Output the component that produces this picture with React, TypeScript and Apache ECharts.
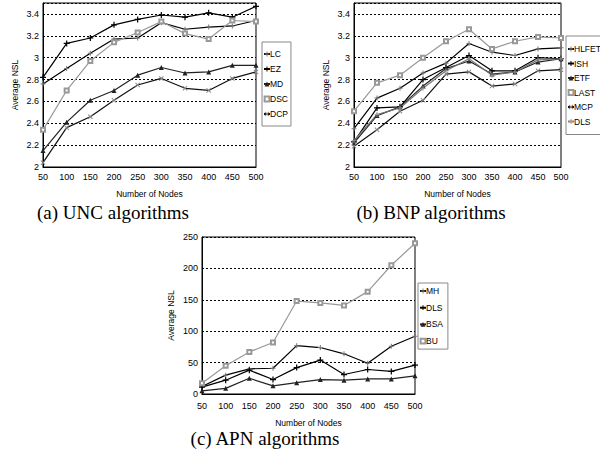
import React, { useEffect, useRef } from "react";
import * as echarts from "echarts";

const nodes = ["50", "100", "150", "200", "250", "300", "350", "400", "450", "500"];

// (a) UNC algorithms
const uncLC = [2.76, 2.9, 3.04, 3.17, 3.18, 3.32, 3.26, 3.28, 3.29, 3.34];
const uncEZ = [2.82, 3.13, 3.18, 3.3, 3.35, 3.39, 3.37, 3.41, 3.37, 3.47];
const uncMD = [2.15, 2.41, 2.61, 2.7, 2.84, 2.91, 2.86, 2.87, 2.93, 2.93];
const uncDSC = [2.34, 2.7, 2.97, 3.14, 3.23, 3.33, 3.22, 3.17, 3.34, 3.33];
const uncDCP = [2.04, 2.36, 2.46, 2.61, 2.75, 2.81, 2.72, 2.7, 2.81, 2.87];

// (b) BNP algorithms
const bnpHLFET = [2.35, 2.63, 2.72, 2.86, 2.95, 3.13, 3.05, 3.02, 3.08, 3.09];
const bnpISH = [2.23, 2.54, 2.55, 2.8, 2.91, 3.02, 2.88, 2.88, 3.0, 2.99];
const bnpETF = [2.22, 2.47, 2.55, 2.74, 2.9, 2.97, 2.85, 2.87, 2.96, 2.99];
const bnpLAST = [2.51, 2.77, 2.84, 3.0, 3.15, 3.26, 3.08, 3.15, 3.19, 3.18];
const bnpMCP = [2.19, 2.34, 2.51, 2.61, 2.85, 2.87, 2.74, 2.76, 2.88, 2.89];
const bnpDLS = [2.24, 2.48, 2.54, 2.72, 2.88, 2.99, 2.84, 2.87, 2.98, 2.99];

// (c) APN algorithms
const apnMH = [12, 30, 40, 41, 77, 74, 64, 49, 76, 92];
const apnDLS = [11, 22, 38, 23, 42, 54, 31, 39, 36, 46];
const apnBSA = [5, 9, 25, 13, 18, 23, 22, 24, 24, 29];
const apnBU = [17, 45, 67, 82, 148, 145, 141, 163, 205, 240];

const captions = ["(a) UNC algorithms", "(b) BNP algorithms", "(c) APN algorithms"];
const legendA = ["LC", "EZ", "MD", "DSC", "DCP"];
const legendB = ["HLFET", "ISH", "ETF", "LAST", "MCP", "DLS"];
const legendC = ["MH", "DLS ", "BSA", "BU"];

const PLUS = "path://M4,0H6V4H10V6H6V10H4V6H0V4H4Z";
const CROSS =
  "path://M1.4,0L5,3.6L8.6,0L10,1.4L6.4,5L10,8.6L8.6,10L5,6.4L1.4,10L0,8.6L3.6,5L0,1.4Z";

const SANS = "Liberation Sans, Arial, sans-serif";
const SERIF = "Liberation Serif, Times New Roman, serif";

function mk(name: string, data: number[], color: string, symbol: string, idx: number, size = 5, mcolor?: string) {
  return {
    name,
    type: "line",
    xAxisIndex: idx,
    yAxisIndex: idx,
    data,
    symbol,
    symbolSize: size,
    showSymbol: true,
    lineStyle: { color, width: 1.2 },
    itemStyle: { color: mcolor || color, borderColor: mcolor || color, borderWidth: symbol.startsWith("empty") ? 1 : 0 },
    emphasis: { disabled: true },
  };
}

function xAx(idx: number, margin: number, gap: number) {
  return {
    type: "category",
    gridIndex: idx,
    data: nodes,
    boundaryGap: false,
    axisLine: { lineStyle: { color: "#000", width: 1 } },
    axisTick: { show: false },
    axisLabel: { color: "#000", fontSize: 9, fontFamily: SANS, margin, interval: 0 },
    splitLine: { show: false },
    name: "Number of Nodes",
    nameLocation: "middle",
    nameGap: gap,
    nameTextStyle: { color: "#000", fontSize: 8.5, fontFamily: SANS },
  };
}

function yAx(idx: number, min: number, max: number, interval: number, showMax: boolean, gap: number) {
  return {
    type: "value",
    gridIndex: idx,
    min,
    max,
    interval,
    axisLine: { show: true, lineStyle: { color: "#000", width: 1 } },
    axisTick: { show: false },
    axisLabel: { color: "#000", fontSize: 9, fontFamily: SANS, margin: 4, showMaxLabel: showMax },
    splitLine: { show: true, lineStyle: { color: "#000", type: [2, 2], width: 1 } },
    name: "Average NSL",
    nameLocation: "middle",
    nameRotate: 90,
    nameGap: gap,
    nameTextStyle: { color: "#000", fontSize: 8.5, fontFamily: SANS },
  };
}

function legend(data: string[], left: number, top: number, gap: number, padV: number) {
  return {
    data,
    orient: "vertical",
    left,
    top,
    itemWidth: 6,
    itemHeight: 6,
    itemGap: gap,
    padding: [padV, 3, padV, 1],
    borderColor: "#888",
    borderWidth: 1,
    backgroundColor: "#fff",
    borderRadius: 0,
    textStyle: { color: "#000", fontSize: 8.5, fontFamily: SANS, padding: [0, 0, 0, -5], lineHeight: 10 },
    selectedMode: false,
  };
}

export default function App() {
  const ref = useRef<HTMLDivElement>(null);
  useEffect(() => {
    if (!ref.current) return;
    const chart = echarts.init(ref.current, null, { renderer: "svg" });
    const option = {
      animation: false,
      backgroundColor: "#fff",
      grid: [
        { left: 43, top: 3, width: 213, height: 164, show: true, borderColor: "#000", borderWidth: 1, backgroundColor: "transparent" },
        { left: 354, top: 3, width: 207, height: 164, show: true, borderColor: "#000", borderWidth: 1, backgroundColor: "transparent" },
        { left: 202, top: 237, width: 213, height: 157, show: true, borderColor: "#000", borderWidth: 1, backgroundColor: "transparent" },
      ],
      xAxis: [xAx(0, 5, 22), xAx(1, 5, 22), xAx(2, 7, 24)],
      yAxis: [
        yAx(0, 2, 3.5, 0.2, false, 24),
        yAx(1, 2, 3.5, 0.2, false, 24),
        yAx(2, 0, 250, 50, true, 27),
      ],
      legend: [
        legend(legendA, 262, 42, 5, 7),
        legend(legendB, 566, 36, 4.5, 8),
        legend(legendC, 418, 283, 6.7, 3),
      ],
      series: [
        mk("LC", uncLC, "#000", PLUS, 0, 5, "#777"),
        mk("EZ", uncEZ, "#000", PLUS, 0, 6),
        mk("MD", uncMD, "#222", "triangle", 0, 5),
        mk("DSC", uncDSC, "#999", "emptyRect", 0, 4),
        mk("DCP", uncDCP, "#111", CROSS, 0, 5, "#888"),

        mk("HLFET", bnpHLFET, "#000", PLUS, 1, 5, "#777"),
        mk("ISH", bnpISH, "#000", PLUS, 1, 6),
        mk("ETF", bnpETF, "#222", "triangle", 1, 5),
        mk("LAST", bnpLAST, "#999", "emptyRect", 1, 4),
        mk("MCP", bnpMCP, "#111", CROSS, 1, 5, "#888"),
        mk("DLS", bnpDLS, "#777", PLUS, 1, 5, "#999"),

        mk("MH", apnMH, "#000", PLUS, 2, 5, "#777"),
        mk("DLS ", apnDLS, "#000", PLUS, 2, 6),
        mk("BSA", apnBSA, "#222", "triangle", 2, 5),
        mk("BU", apnBU, "#999", "emptyRect", 2, 4),
      ],
      graphic: [
        { type: "text", x: 113, y: 212, style: { text: captions[0], fill: "#000", font: `19px ${SERIF}`, textAlign: "center", textVerticalAlign: "middle" } },
        { type: "text", x: 431, y: 212, style: { text: captions[1], fill: "#000", font: `19px ${SERIF}`, textAlign: "center", textVerticalAlign: "middle" } },
        { type: "text", x: 265, y: 438, style: { text: captions[2], fill: "#000", font: `19px ${SERIF}`, textAlign: "center", textVerticalAlign: "middle" } },
      ],
    };
    chart.setOption(option as any);
    return () => chart.dispose();
  }, []);
  return <div ref={ref} style={{ position: "fixed", left: 0, top: 0, width: 600, height: 454, background: "#fff" }} />;
}
